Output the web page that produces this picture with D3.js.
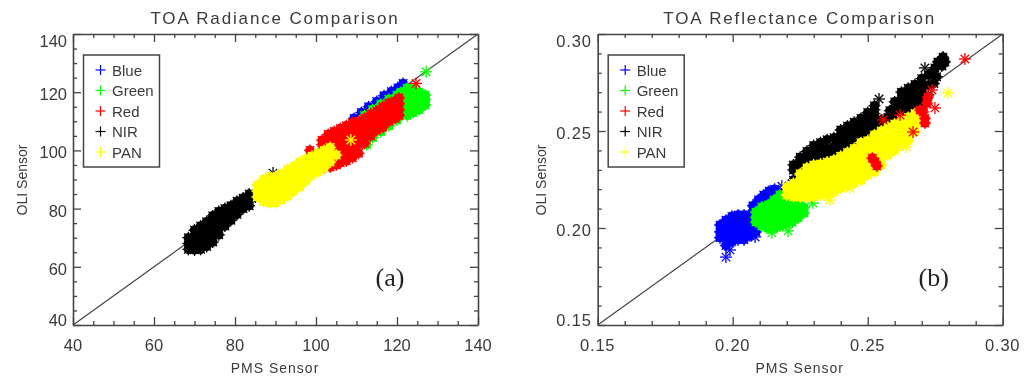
<!DOCTYPE html>
<html><head><meta charset="utf-8">
<script src="https://cdnjs.cloudflare.com/ajax/libs/d3/7.8.5/d3.min.js"></script>
<style>html,body{margin:0;padding:0;background:#fff}svg{display:block;filter:blur(0.45px)}text{font-family:"Liberation Sans",sans-serif;fill:#3a3a3a}</style>
</head><body><svg id="c" width="1024" height="387"></svg>
<script>
const bandNames=["Blue","Green","Red","NIR","PAN"];
const bandColors=["#0000ff","#00ff00","#ff0000","#000000","#ffff00"];

/* Panel (a): radiance, [PMS, OLI] */
const radBlue=[[109.4,111],[111.2,113],[113,115],[115,116.8],[116.8,118.8],[118.6,120.2],[120.2,121.5],[121.5,123]];
const radGreen=[[112.5,102],[114,104.5],[116,106.5],[118,108.5],[120,110.5],[112,112],[114,114],[116,115.8],[118,117.6],[120,119],
[121,114],[121,116],[121,118],[121,120],[122.5,112],[122.5,114],[122.5,116],[122.5,118],[122.5,120],[122.5,121.4],
[124,113],[124,115],[124,117],[124,119],[124,121],[125.5,114],[125.5,116],[125.5,118],[125.5,120],[127,115.6],[127,117.5],[127,119]];
const radGreenLone=[[127.2,127]];
const radRed=[[98.5,100],[100,96],[100,98.4],[101.5,96],[101.5,98],[101.5,100],[101.5,102],[101.5,103.5],[102,94],[103,96],[103,98],[103,100],[103,102],[103,104],[103,105.5],[103.5,94.3],
[104.5,96],[104.5,98],[104.5,100],[104.5,102],[104.5,104],[104.5,106.5],[105,95],[106,95.7],[106,98],[106,100],[106,102],[106,104],[106,106],[106,107.5],
[107.5,96.4],[107.5,99],[107.5,101],[107.5,103],[107.5,105],[107.5,107],[107.5,108.5],[109,97.5],[109,100],[109,102],[109,104],[109,106],[109,108],[109,109.5],
[110.5,99],[110.5,102],[110.5,104],[110.5,106],[110.5,108],[110.5,110],[112,102.5],[112,105],[112,107],[112,109],[112,111],
[113.5,105],[113.5,108],[113.5,110],[113.5,112.5],[115,107],[115,109.5],[115,111.5],[115,113.5],[116.5,108],[116.5,110.5],[116.5,112.5],[116.5,115],
[118,110],[118,112],[118,114],[118,116.3],[119.5,111],[119.5,113],[119.5,115],[119.5,117],[120.5,112],[120.5,114],[120.5,116],[120.5,118]];
const radRedLone=[[124.7,123]];
const radNir=[[68.5,66],[68.5,68],[68.5,70],[70,65.8],[70,68],[70,70],[70,72.6],[71.5,66],[71.5,68],[71.5,70],[71.5,72],[71.5,74],
[73,67],[73,69],[73,71],[73,73],[73,75.5],[74.5,68.5],[74.5,70.5],[74.5,72.5],[74.5,75],[74.5,77.5],[76,71],[76,73],[76,75],[76,77],[76,79],
[77.5,74],[77.5,76],[77.5,78],[77.5,80],[79,76],[79,78],[79,81],[80.5,78],[80.5,80],[80.5,82.5],[82,80],[82,82],[82,83.6],[83.5,81],[83.5,83],[83.5,85],[85,84]];
const radNirLone=[[89.4,92.2]];
const radPan=[[85.5,84],[85.5,86],[85.5,88],[87,82.5],[87,84.5],[87,86.5],[87,88.5],[87,90],[88.5,82],[88.5,84],[88.5,86],[88.5,88],[88.5,91],
[90,82],[90,84],[90,86],[90,88],[90,91],[91.5,83],[91.5,85],[91.5,87],[91.5,89],[91.5,91],[91.5,92],[93,84.3],[93,86],[93,88],[93,90],[93,92],[93,93.5],
[94.5,86],[94.5,88],[94.5,90],[94.5,92],[94.5,94.5],[96,87.5],[96,90],[96,92],[96,94],[96,96],
[97.5,89.5],[97.5,92],[97.5,94],[97.5,97],[99,91.5],[99,93.5],[99,96],[99,98],[100.5,92.6],[100.5,95],[100.5,97],[100.5,99],
[102,94],[102,96],[102,98],[102,100],[103.5,96],[103.5,99],[103.5,101],[105,98.4]];
const radPanLone=[[108.6,103.6]];

/* Panel (b): reflectance, [PMS, OLI] */
const refBlue=[[0.1953,0.195],[0.1953,0.198],[0.1953,0.2015],[0.1975,0.191],[0.1975,0.194],[0.1975,0.197],[0.1975,0.2],[0.1975,0.204],
[0.1997,0.193],[0.1997,0.196],[0.1997,0.199],[0.1997,0.202],[0.1997,0.206],[0.202,0.194],[0.202,0.197],[0.202,0.2],[0.202,0.203],[0.202,0.2067],
[0.2042,0.194],[0.2042,0.197],[0.2042,0.2],[0.2042,0.203],[0.2042,0.2067],[0.2064,0.196],[0.2064,0.199],[0.2064,0.202],[0.2064,0.2067],[0.2086,0.198],[0.2086,0.2],[0.2086,0.2031],
[0.2075,0.2085],[0.2075,0.2115],[0.2095,0.2085],[0.2095,0.2115],[0.2095,0.2145],[0.2115,0.2115],[0.2115,0.214],[0.2115,0.217],[0.2135,0.213],[0.2135,0.216],[0.2135,0.219],[0.2155,0.2175],[0.2155,0.22],[0.2175,0.218]];
const refBlueLone=[[0.1975,0.185],[0.199,0.1887],[0.2083,0.1954],[0.2182,0.2215]];
const refGreen=[[0.2086,0.2031],[0.2086,0.2055],[0.2086,0.2082],[0.2108,0.201],[0.2108,0.204],[0.2108,0.207],[0.2108,0.2108],[0.2131,0.2],[0.2131,0.203],[0.2131,0.206],[0.2131,0.209],[0.2131,0.2119],
[0.2153,0.2],[0.2153,0.203],[0.2153,0.206],[0.2153,0.209],[0.2153,0.212],[0.2153,0.2144],[0.2175,0.201],[0.2175,0.204],[0.2175,0.207],[0.2175,0.21],[0.2175,0.213],[0.2175,0.217],
[0.2197,0.2021],[0.2197,0.205],[0.2197,0.208],[0.2197,0.211],[0.2197,0.214],[0.2197,0.217],[0.222,0.203],[0.222,0.206],[0.222,0.209],[0.222,0.212],[0.222,0.2155],
[0.2242,0.2052],[0.2242,0.208],[0.2242,0.2105],[0.2242,0.2129],[0.2264,0.2077],[0.2264,0.2105]];
const refGreenLone=[[0.2297,0.2129],[0.2205,0.1985],[0.2145,0.1975]];
const refRedLone=[[0.286,0.2871]];
const refNir=[[0.2225,0.2299],[0.2225,0.2247],[0.2225,0.2325],[0.225,0.229],[0.225,0.232],[0.225,0.235],[0.225,0.2365],[0.2275,0.231],[0.2275,0.234],[0.2275,0.237],[0.2275,0.2395],[0.23,0.233],[0.23,0.236],[0.23,0.239],[0.23,0.2425],
[0.2325,0.234],[0.2325,0.237],[0.2325,0.24],[0.2325,0.244],[0.235,0.235],[0.235,0.238],[0.235,0.241],[0.235,0.2455],[0.2375,0.236],[0.2375,0.239],[0.2375,0.242],[0.2375,0.2465],
[0.24,0.238],[0.24,0.241],[0.24,0.244],[0.24,0.247],[0.24,0.2505],[0.2425,0.24],[0.2425,0.243],[0.2425,0.246],[0.2425,0.249],[0.2425,0.2525],[0.245,0.242],[0.245,0.245],[0.245,0.248],[0.245,0.251],[0.245,0.2545],
[0.2475,0.245],[0.2475,0.248],[0.2475,0.251],[0.2475,0.254],[0.2475,0.2565],[0.25,0.248],[0.25,0.251],[0.25,0.254],[0.25,0.257],[0.25,0.2595],[0.2525,0.25],[0.2525,0.253],[0.2525,0.256],[0.2525,0.259],[0.2525,0.261],
[0.2525,0.263],[0.255,0.252],[0.255,0.2557],[0.2575,0.254],[0.2575,0.257],[0.2582,0.2605],[0.26,0.255],[0.26,0.258],[0.26,0.261],[0.26,0.265],
[0.2625,0.258],[0.2625,0.261],[0.2625,0.264],[0.2625,0.267],[0.2625,0.27],[0.265,0.26],[0.265,0.263],[0.265,0.266],[0.265,0.269],[0.265,0.272],
[0.2675,0.26],[0.2675,0.263],[0.2675,0.266],[0.2675,0.269],[0.2675,0.272],[0.2675,0.274],[0.27,0.261],[0.27,0.264],[0.27,0.267],[0.27,0.27],[0.27,0.273],[0.27,0.277],
[0.2725,0.2737],[0.2725,0.2789],[0.2735,0.2795],[0.2745,0.2745],[0.2755,0.278],[0.2749,0.2825],[0.276,0.2856],[0.2775,0.2835],[0.2779,0.2881],[0.2786,0.2856]];
const refNirLone=[[0.2542,0.2665],[0.2712,0.2825],[0.2725,0.2686]];
const refPan=[[0.22,0.217],[0.22,0.221],[0.2225,0.216],[0.2225,0.219],[0.2225,0.223],[0.225,0.216],[0.225,0.219],[0.225,0.222],[0.225,0.225],[0.225,0.228],
[0.2275,0.216],[0.2275,0.219],[0.2275,0.222],[0.2275,0.225],[0.2275,0.228],[0.2275,0.231],[0.23,0.216],[0.23,0.219],[0.23,0.222],[0.23,0.225],[0.23,0.228],[0.23,0.231],[0.23,0.2325],
[0.2325,0.217],[0.2325,0.22],[0.2325,0.223],[0.2325,0.226],[0.2325,0.229],[0.2325,0.232],[0.2325,0.233],[0.235,0.2175],[0.235,0.2205],[0.235,0.2235],[0.235,0.2265],[0.235,0.2295],[0.235,0.2325],[0.235,0.234],
[0.2375,0.2186],[0.2375,0.222],[0.2375,0.225],[0.2375,0.228],[0.2375,0.231],[0.2375,0.234],[0.2375,0.235],[0.24,0.2206],[0.24,0.224],[0.24,0.227],[0.24,0.23],[0.24,0.233],[0.24,0.236],[0.24,0.237],
[0.2425,0.222],[0.2425,0.225],[0.2425,0.228],[0.2425,0.231],[0.2425,0.234],[0.2425,0.237],[0.2425,0.239],[0.245,0.2232],[0.245,0.226],[0.245,0.229],[0.245,0.232],[0.245,0.235],[0.245,0.238],[0.245,0.241],
[0.2475,0.2247],[0.2475,0.228],[0.2475,0.231],[0.2475,0.234],[0.2475,0.237],[0.2475,0.24],[0.2475,0.244],[0.25,0.2273],[0.25,0.23],[0.25,0.233],[0.25,0.236],[0.25,0.239],[0.25,0.242],[0.25,0.245],
[0.2525,0.229],[0.2525,0.232],[0.2525,0.235],[0.2525,0.238],[0.2525,0.241],[0.2525,0.244],[0.2525,0.248],[0.255,0.2325],[0.255,0.236],[0.255,0.239],[0.255,0.242],[0.255,0.245],[0.255,0.25],
[0.2575,0.2376],[0.2575,0.241],[0.2575,0.244],[0.2575,0.247],[0.2575,0.252],[0.26,0.24],[0.26,0.243],[0.26,0.246],[0.26,0.249],[0.26,0.2536],[0.2625,0.243],[0.2625,0.246],[0.2625,0.249],[0.2625,0.2525],[0.2625,0.2557],
[0.265,0.245],[0.265,0.248],[0.265,0.2515],[0.265,0.2545],[0.265,0.257],[0.2675,0.25],[0.2675,0.253],[0.2675,0.256],[0.2675,0.259]];
const refPanLone=[[0.27,0.256],[0.2797,0.2696],[0.236,0.2144],[0.2642,0.2418],[0.2434,0.2206]];
const refRedOver=[[0.2527,0.234],[0.2517,0.236],[0.2534,0.232],[0.2694,0.2608],[0.2705,0.2598],[0.2712,0.2565],[0.2712,0.2541],[0.2719,0.2644],[0.2723,0.2675]];
const refRedOverLone=[[0.2749,0.2619],[0.2738,0.2711],[0.2668,0.2495],[0.2557,0.2557],[0.262,0.2582]];

const radTicks=[40,60,80,100,120,140];
const radMinor=[45,50,55,65,70,75,85,90,95,105,110,115,125,130,135];
const refTicks=[0.15,0.20,0.25,0.30];
const refMinor=[0.16,0.17,0.18,0.19,0.21,0.22,0.23,0.24,0.26,0.27,0.28,0.29];

const svg=d3.select("#c");
const top_=34,bottom_=325,ink="#444";
const star=[0,45,90,135];

function panel(o){
  const x=d3.scaleLinear().domain(o.domain).range([o.left,o.left+405]);
  const y=d3.scaleLinear().domain(o.domain).range([bottom_,top_]);
  const g=svg.append("g");
  g.append("line").attr("x1",x(o.domain[0])).attr("y1",y(o.domain[0])).attr("x2",x(o.domain[1])).attr("y2",y(o.domain[1])).attr("stroke",ink).attr("stroke-width",1.2);
  o.layers.forEach(l=>{
    const pts=g.append("g").selectAll("g").data(l.data).join("g").attr("transform",d=>`translate(${x(d[0])},${y(d[1])})`);
    if(l.core) pts.append("circle").attr("r",4.8).attr("fill",l.color);
    star.forEach(a=>pts.append("line").attr("x1",-6).attr("x2",6).attr("y1",0).attr("y2",0).attr("transform",`rotate(${a})`).attr("stroke",l.color).attr("stroke-width",1.3));
  });
  const axes=[[d3.axisBottom(x),0,bottom_],[d3.axisTop(x),0,top_],[d3.axisLeft(y),o.left,0],[d3.axisRight(y),o.left+405,0]];
  axes.forEach(([a,tx,ty])=>{
    const maj=g.append("g").attr("transform",`translate(${tx},${ty})`).call(a.tickValues(o.ticks).tickSize(-8).tickSizeOuter(0).tickFormat(""));
    maj.selectAll("text").remove();
    maj.select(".domain").attr("stroke",ink).attr("stroke-width",1.6);
    maj.selectAll(".tick line").attr("stroke",ink).attr("stroke-width",1.3);
    const mnr=g.append("g").attr("transform",`translate(${tx},${ty})`).call(a.tickValues(o.minor).tickSize(-4).tickFormat(""));
    mnr.select(".domain").remove();
    mnr.selectAll(".tick line").attr("stroke",ink).attr("stroke-width",1.3);
    mnr.selectAll("text").remove();
  });
  o.ticks.forEach(t=>{
    g.append("text").attr("x",x(t)).attr("y",351).attr("text-anchor","middle").style("font-size","16.5px").style("letter-spacing",o.ls).text(o.fmt(t));
    g.append("text").attr("x",o.left-6).attr("y",y(t)+(t===o.domain[0]?1:t===o.domain[1]?13:8)).attr("text-anchor","end").style("font-size","16.5px").style("letter-spacing",o.ls).text(o.fmt(t));
  });
  g.append("text").attr("x",o.left+202).attr("y",24).attr("text-anchor","middle").style("font-size","17px").style("letter-spacing","1.85px").text(o.title);
  g.append("text").attr("x",o.left+202).attr("y",373).attr("text-anchor","middle").style("font-size","14px").style("letter-spacing","1px").text("PMS Sensor");
  g.append("text").attr("transform",`translate(${o.left-o.ytx},180) rotate(-90)`).attr("text-anchor","middle").style("font-size","14px").text("OLI Sensor");
  g.append("text").attr("x",o.left+o.tagX).attr("y",286).attr("text-anchor","middle").style("font-family","'Liberation Serif',serif").style("font-size","26px").style("fill","#222").text(o.tag);
  const lx=o.left+10.5;
  g.append("rect").attr("x",lx).attr("y",55).attr("width",76).attr("height",112).attr("fill","#fff").attr("stroke",ink).attr("stroke-width",1.5);
  bandNames.forEach((n,i)=>{
    const ly=70+i*20.5, mx=lx+17;
    g.append("line").attr("x1",mx-5).attr("x2",mx+5).attr("y1",ly).attr("y2",ly).attr("stroke",bandColors[i]).attr("stroke-width",1.2);
    g.append("line").attr("x1",mx).attr("x2",mx).attr("y1",ly-5).attr("y2",ly+5).attr("stroke",bandColors[i]).attr("stroke-width",1.2);
    g.append("text").attr("x",lx+28.5).attr("y",ly+5.5).style("font-size","15px").text(n);
  });
}
const C=bandColors;
panel({left:73,domain:[40,140],ticks:radTicks,minor:radMinor,fmt:d3.format("d"),title:"TOA Radiance Comparison",tag:"(a)",tagX:317,ls:"0px",ytx:46,
  layers:[{data:radBlue,color:C[0],core:true},{data:radGreen,color:C[1],core:true},{data:radGreenLone,color:C[1]},{data:radRed,color:C[2],core:true},{data:radRedLone,color:C[2]},{data:radNir,color:C[3],core:true},{data:radNirLone,color:C[3]},{data:radPan,color:C[4],core:true},{data:radPanLone,color:C[4]}]});
panel({left:597.7,domain:[0.15,0.30],ticks:refTicks,minor:refMinor,fmt:d3.format(".2f"),title:"TOA Reflectance Comparison",tag:"(b)",tagX:336,ls:"0.8px",ytx:52,
  layers:[{data:refBlue,color:C[0],core:true},{data:refBlueLone,color:C[0]},{data:refGreen,color:C[1],core:true},{data:refGreenLone,color:C[1]},{data:refRedLone,color:C[2]},{data:refNir,color:C[3],core:true},{data:refNirLone,color:C[3]},{data:refPan,color:C[4],core:true},{data:refPanLone,color:C[4]},{data:refRedOver,color:C[2],core:true},{data:refRedOverLone,color:C[2]}]});
</script></body></html>
